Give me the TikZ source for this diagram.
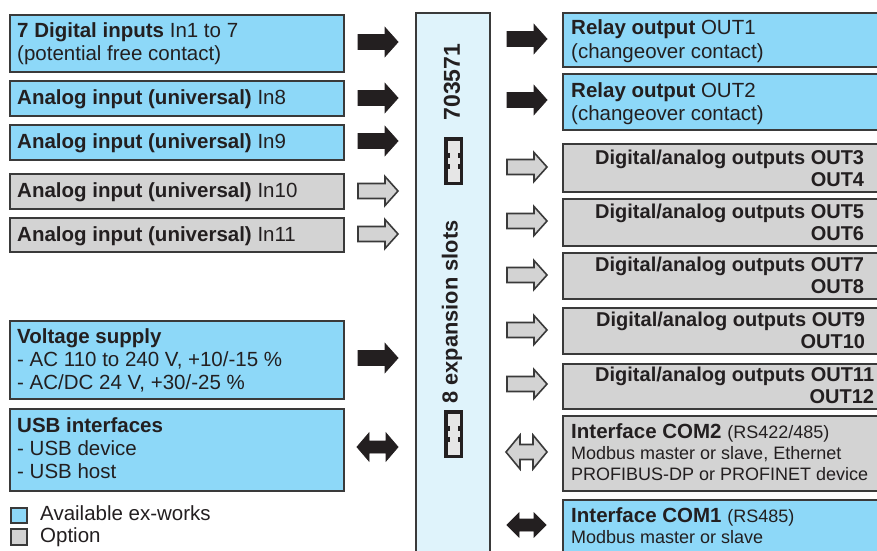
\documentclass[tikz,border=0pt]{standalone}
\usepackage{fontspec}
\setmainfont{Liberation Sans}
\definecolor{blu}{HTML}{8DD8F8}
\definecolor{gry}{HTML}{D3D3D3}
\definecolor{barc}{HTML}{DFF3FB}
\definecolor{edge}{HTML}{3A3A3A}
\definecolor{ink}{HTML}{231F20}
\definecolor{iconc}{HTML}{E6E6E6}
\tikzset{
  box/.style={draw=edge, line width=2.2pt, anchor=north west, inner sep=0pt},
  bbox/.style={box, fill=blu},
  gbox/.style={box, fill=gry},
  txt/.style={anchor=base west, inner sep=0pt, text=ink, font=\fontsize{20.5}{23}\selectfont},
  dtxt/.style={txt, font=\fontsize{20}{23}\selectfont\bfseries},
  rtxt/.style={dtxt, anchor=base east},
  stxt/.style={txt, font=\fontsize{18}{21}\selectfont},
  solidarr/.style={fill=ink, draw=ink, line width=0.8pt, line join=miter},
  hollowarr/.style={fill=gry, draw=edge, line width=1.6pt, line join=miter},
  pics/rarrow/.style={code={
    \draw[pic actions] (0,-7.5) -- (27,-7.5) -- (27,-14.5) -- (40,0) -- (27,14.5) -- (27,7.5) -- (0,7.5) -- cycle;}},
  pics/darrow/.style={code={
    \draw[pic actions] (0,0) -- (12,-14) -- (12,-6) -- (29,-6) -- (29,-14) -- (41,0) -- (29,14) -- (29,6) -- (12,6) -- (12,14) -- cycle;}},
  pics/hdarrow/.style={code={
    \draw[pic actions] (0,0) -- (14,-17) -- (14,-7.5) -- (27,-7.5) -- (27,-17) -- (41,0) -- (27,17) -- (27,7.5) -- (14,7.5) -- (14,17) -- cycle;}},
  pics/sdarrow/.style={code={
    \draw[pic actions] (0,0) -- (12,-12) -- (12,-6) -- (27,-6) -- (27,-12) -- (39,0) -- (27,12) -- (27,6) -- (12,6) -- (12,12) -- cycle;}},
  pics/slot/.style={code={
    \fill[ink] (0,0) rectangle (19,48);
    \fill[iconc] (3.5,3.5) rectangle (15.5,44.5);
    \fill[ink] (3,16) rectangle (5.5,21);
    \fill[ink] (13.5,16) rectangle (16,21);
    \fill[ink] (3,27) rectangle (5.5,32);
    \fill[ink] (13.5,27) rectangle (16,32);}}
}
\begin{document}
\begin{tikzpicture}[x=1pt,y=-1pt]
\useasboundingbox (0,0) rectangle (877,550);
\clip (0,0) rectangle (877,550);
\fill[white] (0,0) rectangle (877,550);

% central bar
\node[box, fill=barc, minimum width=74pt, minimum height=560pt] (bar) at (415,12) {};
\node[rotate=90, inner sep=0pt, text=ink, font=\fontsize{23}{26}\selectfont\bfseries] (num) at (452,82) {703571};
\node[rotate=90, inner sep=0pt, text=ink, font=\fontsize{21.8}{25}\selectfont\bfseries] (slots) at (452,312) {8 expansion slots};
\pic at (444,137) {slot};
\pic at (444,410) {slot};

% left boxes
\node[bbox, minimum width=334pt, minimum height=57pt] (in1) at (9,14) {};
\node[txt] (in1a) at (17,37) {\bfseries 7 Digital inputs \mdseries In1 to 7};
\node[txt] (in1b) at (17,60) {(potential free contact)};
\node[bbox, minimum width=334pt, minimum height=35pt] (in8) at (9,80) {};
\node[txt] (in8a) at (17,104) {\bfseries Analog input (universal) \mdseries In8};
\node[bbox, minimum width=334pt, minimum height=35pt] (in9) at (9,124) {};
\node[txt] (in9a) at (17,148) {\bfseries Analog input (universal) \mdseries In9};
\node[gbox, minimum width=334pt, minimum height=35pt] (in10) at (9,173) {};
\node[txt] (in10a) at (17,197) {\bfseries Analog input (universal) \mdseries In10};
\node[gbox, minimum width=334pt, minimum height=34pt] (in11) at (9,217) {};
\node[txt] (in11a) at (17,241) {\bfseries Analog input (universal) \mdseries In11};
\node[bbox, minimum width=334pt, minimum height=78pt] (vs) at (9,320) {};
\node[txt] (vsa) at (17,343) {\bfseries Voltage supply};
\node[txt] (vsb) at (17,366) {- AC 110 to 240 V, +10/-15 \%};
\node[txt] (vsc) at (17,389) {- AC/DC 24 V, +30/-25 \%};
\node[bbox, minimum width=334pt, minimum height=82pt] (usb) at (9,408) {};
\node[txt] (usba) at (17,432) {\bfseries USB interfaces};
\node[txt] (usbb) at (17,455) {- USB device};
\node[txt] (usbc) at (17,478) {- USB host};

% legend
\node[box, fill=blu, minimum width=16pt, minimum height=15pt, line width=2pt] (lg1) at (10,507) {};
\node[txt] (lg1t) at (40,520) {Available ex-works};
\node[box, fill=gry, minimum width=16pt, minimum height=16pt, line width=2pt] (lg2) at (10,528) {};
\node[txt] (lg2t) at (40,542) {Option};

% left arrows
\pic[solidarr] at (358,42) {rarrow};
\pic[solidarr] at (358,98) {rarrow};
\pic[solidarr] at (358,141) {rarrow};
\pic[hollowarr] at (358,191) {rarrow};
\pic[hollowarr] at (358,234) {rarrow};
\pic[solidarr] at (358,358) {rarrow};
\pic[solidarr] at (357,447) {darrow};

% right boxes
\node[bbox, minimum width=328pt, minimum height=54pt] (o1) at (562,12) {};
\node[txt] (o1a) at (571,34) {\bfseries Relay output \mdseries OUT1};
\node[txt] (o1b) at (571,58) {(changeover contact)};
\node[bbox, minimum width=328pt, minimum height=56pt] (o2) at (562,73) {};
\node[txt] (o2a) at (571,97) {\bfseries Relay output \mdseries OUT2};
\node[txt] (o2b) at (571,120) {(changeover contact)};

\node[gbox, minimum width=328pt, minimum height=48pt] (d1) at (562,143) {};
\node[dtxt] (d1a) at (595,164) {Digital/analog outputs OUT3};
\node[rtxt] (d1b) at ([yshift=-22pt]d1a.base east) {OUT4};
\node[gbox, minimum width=328pt, minimum height=47pt] (d2) at (562,198) {};
\node[dtxt] (d2a) at (595,218) {Digital/analog outputs OUT5};
\node[rtxt] (d2b) at ([yshift=-22pt]d2a.base east) {OUT6};
\node[gbox, minimum width=328pt, minimum height=46pt] (d3) at (562,252) {};
\node[dtxt] (d3a) at (595,271) {Digital/analog outputs OUT7};
\node[rtxt] (d3b) at ([yshift=-22pt]d3a.base east) {OUT8};
\node[gbox, minimum width=328pt, minimum height=46pt] (d4) at (562,307) {};
\node[dtxt] (d4a) at (596,326) {Digital/analog outputs OUT9};
\node[rtxt] (d4b) at ([yshift=-22pt]d4a.base east) {OUT10};
\node[gbox, minimum width=328pt, minimum height=45pt] (d5) at (562,363) {};
\node[dtxt] (d5a) at (595,381) {Digital/analog outputs OUT11};
\node[rtxt] (d5b) at ([yshift=-22pt]d5a.base east) {OUT12};

\node[gbox, minimum width=328pt, minimum height=75pt] (c2) at (562,415) {};
\node[txt] (c2a) at (571,438) {\bfseries Interface COM2 \mdseries\fontsize{18}{21}\selectfont (RS422/485)};
\node[stxt] (c2b) at (571,459) {Modbus master or slave, Ethernet};
\node[stxt] (c2c) at (571,480) {PROFIBUS-DP or PROFINET device};
\node[bbox, minimum width=328pt, minimum height=70pt] (c1) at (562,499) {};
\node[txt] (c1a) at (571,522) {\bfseries Interface COM1 \mdseries\fontsize{18}{21}\selectfont (RS485)};
\node[stxt] (c1b) at (571,543) {Modbus master or slave};

% right arrows
\pic[solidarr] at (507,39) {rarrow};
\pic[solidarr] at (507,100) {rarrow};
\pic[hollowarr] at (507,167) {rarrow};
\pic[hollowarr] at (507,221) {rarrow};
\pic[hollowarr] at (507,275) {rarrow};
\pic[hollowarr] at (507,330) {rarrow};
\pic[hollowarr] at (507,384) {rarrow};
\pic[hollowarr] at (506,452) {hdarrow};
\pic[solidarr] at (507,525) {sdarrow};
\end{tikzpicture}
\end{document}
